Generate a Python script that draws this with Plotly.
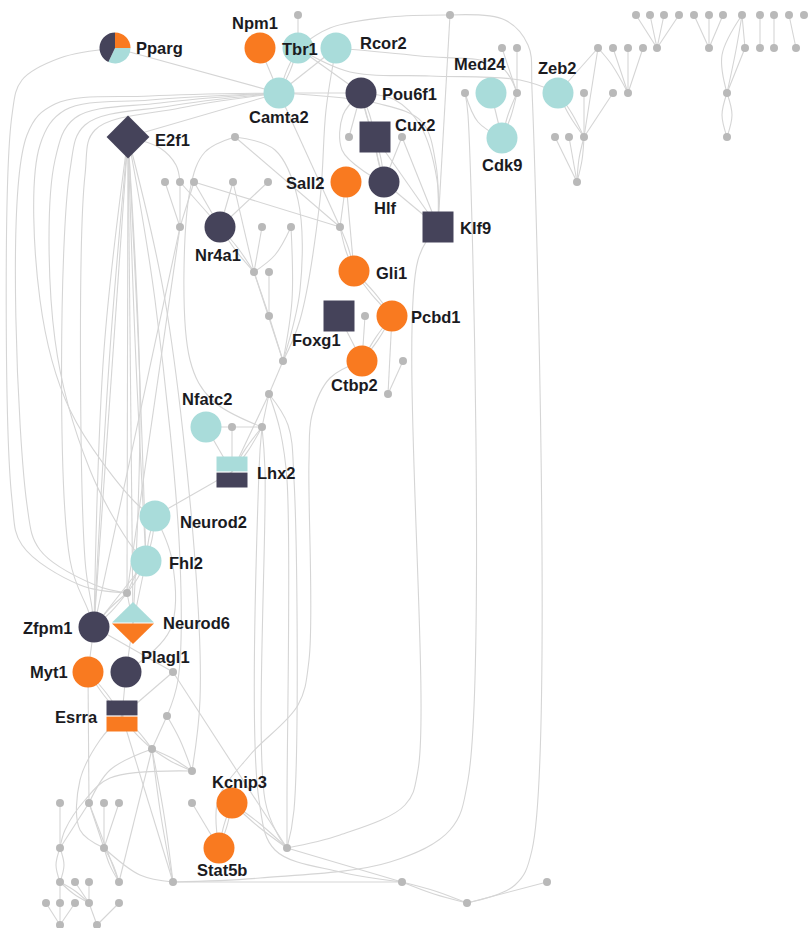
import math
from collections import Counter, defaultdict
import plotly.graph_objects as go

# ---------------- data ----------------
ORANGE = "#F97A20"
CYAN = "#A9DCDA"
DARK = "#45435A"
GRAY = "#B9B9B9"
EDGE = "#D5D5D5"

# named regulators
names = ["Pparg", "Npm1", "Tbr1", "Rcor2", "Camta2", "Pou6f1", "Cux2", "E2f1", "Sall2", "Hlf",
         "Nr4a1", "Klf9", "Med24", "Cdk9", "Zeb2", "Gli1", "Foxg1", "Pcbd1", "Ctbp2", "Nfatc2",
         "Lhx2", "Neurod2", "Fhl2", "Zfpm1", "Neurod6", "Myt1", "Plagl1", "Esrra", "Kcnip3", "Stat5b"]
name_x = [115, 260, 298, 336, 279, 361, 375, 128, 346, 384,
          220, 438, 491, 502, 558, 354, 339, 392, 362, 206,
          232, 155, 146, 94, 133, 88, 126, 122, 232, 219]
name_y = [48, 48, 48, 48, 93, 93, 137, 137, 182, 182,
          227, 227, 93, 138, 93, 271, 316, 316, 361, 427,
          472, 516, 561, 627, 623, 672, 672, 716, 803, 848]
name_shape = ["pie", "circle", "circle", "circle", "circle", "circle", "square", "diamond", "circle", "circle",
              "circle", "square", "circle", "circle", "circle", "circle", "square", "circle", "circle", "circle",
              "split-square", "circle", "circle", "circle", "split-diamond", "circle", "circle", "split-square", "circle", "circle"]
name_color = ["mix", "orange", "cyan", "cyan", "cyan", "dark", "dark", "dark", "orange", "dark",
              "dark", "dark", "cyan", "cyan", "cyan", "orange", "dark", "orange", "orange", "cyan",
              "cyan/dark", "cyan", "cyan", "dark", "cyan/orange", "orange", "dark", "dark/orange", "orange", "orange"]
pparg_shares = [25, 32, 43]          # orange, cyan, dark

# label placement: offset from node and horizontal anchor
label_dx = [19, -5, 2, 22, 0, 19, 18, 25, -19, 1,
            -2, 20, -11, 0, -1, 20, -23, 17, -8, 1,
            23, 23, 21, -19, 28, -18, 39, -22, 7, 3]
label_dy = [0, -25, 1, -5, 24, 1, -12, 3, 1, 26,
            28, 1, -29, 27, -25, 2, 24, 1, 24, -28,
            1, 6, 2, 1, 0, 0, -15, 1, -21, 22]
label_anchor = ["left", "center", "center", "left", "center", "left", "left", "left", "right", "center",
                "center", "left", "center", "center", "center", "left", "center", "left", "center", "center",
                "left", "left", "left", "right", "left", "right", "center", "right", "center", "center"]

# unnamed (grey) genes
gray_ids = ["t1", "t2",
            "r1", "r2", "r3", "r4", "r5", "r6", "r7", "r8", "r9", "r10", "r11", "r12",
            "s1", "s2", "s3", "s4", "s5", "s6", "s7", "s8", "s9", "s10", "s11", "s12",
            "u1", "u2", "u3", "u4", "u5", "u6",
            "v1", "v2", "v3", "v4", "v5", "v6", "v7",
            "w1", "w2", "w3", "w4", "w5", "w6",
            "x1", "x2", "x3", "x4",
            "y1", "y2", "z1", "z2", "m1", "m2", "n1", "n2", "p1", "p2",
            "q1", "q2", "q3", "q4", "q5",
            "b1", "b2", "b3", "b4", "b5",
            "c1", "c2", "c3",
            "d1", "d2", "d3", "d4", "d5", "d6", "d7",
            "e1", "e2", "e3", "e4", "e5", "e6",
            "f1", "f2"]
gray_x = [298, 450,
          636, 650, 664, 679, 694, 709, 723, 742, 760, 774, 789, 804,
          502, 517, 598, 613, 628, 643, 657, 709, 745, 760, 774, 796,
          465, 517, 584, 613, 628, 727,
          235, 349, 402, 555, 569, 584, 727,
          165, 180, 194, 233, 268, 577,
          180, 262, 291, 340,
          254, 269, 269, 365, 283, 403, 269, 388, 232, 262,
          127, 173, 167, 152, 192,
          60, 89, 104, 119, 192,
          60, 104, 287,
          60, 75, 89, 119, 173, 402, 547,
          46, 60, 75, 89, 119, 467,
          60, 97]
gray_y = [15, 15,
          15, 15, 15, 15, 15, 15, 15, 15, 15, 15, 15, 15,
          48, 48, 48, 48, 48, 48, 48, 48, 48, 48, 48, 48,
          93, 93, 93, 93, 93, 93,
          137, 137, 137, 137, 137, 137, 137,
          182, 182, 182, 182, 182, 182,
          227, 227, 227, 227,
          272, 272, 316, 316, 361, 361, 394, 394, 427, 427,
          593, 672, 716, 749, 771,
          803, 803, 803, 803, 803,
          848, 848, 848,
          882, 882, 882, 882, 882, 882, 882,
          903, 903, 903, 903, 903, 903,
          925, 925]

# regulatory links (source, target)
edges = [
    ("s7", "r1"), ("s7", "r2"), ("s7", "r3"), ("s7", "r4"),
    ("s8", "r5"), ("s8", "r6"), ("s8", "r7"),
    ("r8", "s9"), ("s9", "u6"),
    ("r9", "s10"), ("r10", "s11"), ("r11", "s12"),
    ("s3", "Zeb2"), ("s3", "v6"), ("s4", "u5"), ("s5", "u5"), ("s6", "u5"),
    ("u4", "v6"), ("u3", "v6"), ("Zeb2", "v6"), ("Zeb2", "v6"),
    ("v4", "w6"), ("v5", "w6"), ("v6", "w6"), ("v6", "w6"),
    ("s2", "u2"), ("s1", "u2"), ("u2", "Cdk9"), ("u2", "Cdk9"), ("Med24", "Cdk9"),
    ("t1", "Tbr1"), ("Npm1", "Camta2"), ("Tbr1", "Camta2"), ("Tbr1", "Camta2"), ("Rcor2", "Camta2"),
    ("Tbr1", "Pou6f1"), ("Pparg", "Camta2"), ("E2f1", "Camta2"), ("Camta2", "Pou6f1"), ("Camta2", "x4"),
    ("t2", "Klf9"),
    ("Pou6f1", "Cux2"), ("Pou6f1", "Cux2"), ("Pou6f1", "Hlf"), ("Pou6f1", "v2"),
    ("v3", "Hlf"), ("Cux2", "Hlf"), ("Cux2", "Hlf"), ("v3", "Klf9"), ("Cux2", "Klf9"), ("Hlf", "Klf9"),
    ("Sall2", "x4"), ("Sall2", "Gli1"), ("x4", "Gli1"), ("x4", "Gli1"),
    ("Gli1", "Pcbd1"), ("Gli1", "Pcbd1"), ("Pcbd1", "Ctbp2"), ("Pcbd1", "Ctbp2"), ("Foxg1", "Ctbp2"),
    ("z2", "Ctbp2"), ("Pcbd1", "n2"), ("m2", "n2"),
    ("w1", "x1"), ("w2", "x1"), ("w3", "x1"), ("w2", "Nr4a1"), ("w3", "Nr4a1"), ("w4", "Nr4a1"), ("w5", "Nr4a1"),
    ("v1", "x4"), ("w3", "x4"), ("Nr4a1", "y1"), ("Nr4a1", "y1"), ("x2", "y1"), ("w4", "y1"),
    ("y1", "z1"), ("y2", "z1"), ("z1", "m1"), ("y1", "m1"), ("m1", "n1"),
    ("n1", "p2"), ("n1", "Lhx2"), ("p2", "Lhx2"), ("p2", "Lhx2"), ("p1", "Lhx2"), ("Nfatc2", "Lhx2"),
    ("Nfatc2", "p2"), ("Lhx2", "Neurod2"),
    ("x1", "Zfpm1"), ("x1", "q1"),
    ("E2f1", "Zfpm1"), ("E2f1", "Fhl2"), ("E2f1", "Fhl2"), ("E2f1", "q1"), ("E2f1", "Neurod6"),
    ("Neurod2", "Fhl2"), ("Neurod2", "Fhl2"), ("Fhl2", "q1"), ("Fhl2", "q1"), ("Fhl2", "Zfpm1"), ("Fhl2", "Neurod6"),
    ("q1", "Zfpm1"), ("q1", "Zfpm1"), ("q1", "Neurod6"),
    ("Zfpm1", "Myt1"), ("Zfpm1", "q2"), ("Myt1", "Esrra"), ("Myt1", "Esrra"), ("Plagl1", "Esrra"),
    ("q2", "Esrra"), ("Neurod6", "Plagl1"),
    ("Esrra", "q4"), ("Esrra", "q4"), ("q3", "q4"), ("q4", "q5"), ("q4", "q5"), ("q4", "d5"), ("q4", "d5"),
    ("q4", "d4"), ("Esrra", "d5"),
    ("Myt1", "b2"), ("q2", "c3"),
    ("b1", "c1"), ("b2", "c1"), ("b2", "c2"), ("b2", "d4"), ("b3", "c2"), ("b4", "c2"), ("c2", "d4"), ("c2", "d4"),
    ("d1", "e2"), ("d1", "e4"), ("d1", "e4"), ("d2", "e4"), ("d3", "e4"),
    ("e1", "f1"), ("e2", "f1"), ("e3", "f1"), ("e4", "f2"), ("e5", "f2"),
    ("d5", "d6"), ("b5", "Stat5b"), ("Kcnip3", "Stat5b"), ("Kcnip3", "Stat5b"), ("Kcnip3", "c3"), ("Kcnip3", "c3"),
    ("c3", "d6"), ("d6", "e6"), ("d6", "e6"), ("e6", "d7"),
]

# long links drawn along routing channels (source, target, bend points of the layout)
routed = [
    ("r8", "u6", [(736, 50)]), ("r8", "u6", [(722, 55)]),
    ("u6", "v7", [(722, 115)]), ("u6", "v7", [(732, 115)]),
    ("s3", "u5", [(612, 65)]),
    ("u1", "Cdk9", [(478, 122)]),
    ("Rcor2", "u2", [(420, 56), (500, 66)]),
    ("Tbr1", "Zeb2", [(350, 72), (430, 76), (520, 80)]),
    ("Tbr1", "t2", [(330, 28), (390, 17)]),
    ("t2", "e6", [(505, 20), (528, 45), (532, 90), (532, 850), (515, 885)]),
    ("u1", "d5", [(468, 115), (468, 780), (450, 830), (390, 862), (260, 878)]),
    ("Klf9", "c3", [(418, 260), (418, 770), (405, 805), (340, 835)]),
    ("Camta2", "Klf9", [(380, 104), (422, 122), (436, 165)]),
    ("Pou6f1", "Klf9", [(395, 100), (420, 125), (437, 180)]),
    ("Pou6f1", "Hlf", [(343, 115), (342, 150), (365, 172)]),
    ("Rcor2", "m1", [(326, 110), (320, 200), (300, 320)]),
    ("Ctbp2", "Stat5b", [(330, 378), (312, 415), (309, 460), (309, 660), (298, 705), (250, 755), (218, 800)]),
    ("E2f1", "w2", [(160, 148), (176, 165)]),
    ("x3", "y1", [(275, 255)]), ("x3", "m1", [(292, 300)]),
    ("v1", "p2", [(205, 152), (190, 190), (190, 360), (212, 400)]),
    ("v1", "m1", [(275, 150), (298, 200), (300, 290)]),
    ("n1", "c3", [(280, 430), (287, 480), (287, 800)]),
    ("n1", "c3", [(288, 425), (294, 480), (294, 810)]),
    ("p2", "c3", [(265, 470), (265, 800), (278, 835)]),
    ("p2", "d6", [(259, 470), (259, 800), (275, 850), (340, 872)]),
    ("Pparg", "q1", [(60, 58), (22, 80), (12, 115), (12, 500), (22, 545), (80, 585)]),
    ("Camta2", "q1", [(150, 96), (55, 104), (27, 135), (27, 505), (40, 550), (95, 585)]),
    ("Camta2", "Neurod2", [(150, 100), (65, 110), (40, 145), (40, 300), (70, 410), (138, 505)]),
    ("Camta2", "Fhl2", [(160, 103), (75, 118), (55, 160), (55, 340), (90, 470), (133, 548)]),
    ("Camta2", "Zfpm1", [(170, 106), (85, 125), (70, 170), (70, 560), (88, 610)]),
    ("Camta2", "Zfpm1", [(180, 108), (95, 130), (85, 175), (85, 560), (92, 608)]),
    ("E2f1", "Zfpm1", [(110, 350)]), ("E2f1", "Zfpm1", [(104, 350)]),
    ("E2f1", "q5", [(165, 300), (195, 560), (200, 700)]),
    ("E2f1", "q3", [(155, 300), (180, 560), (178, 680)]),
    ("E2f1", "Neurod6", [(140, 400)]),
    ("Neurod2", "Plagl1", [(172, 560), (170, 630)]),
    ("q3", "q5", [(180, 740)]),
    ("q5", "c1", [(110, 778), (85, 800), (65, 830)]),
    ("Esrra", "c2", [(100, 740), (80, 780), (80, 830)]),
    ("c1", "d1", [(56, 865)]), ("c1", "d1", [(64, 865)]),
    ("c2", "d5", [(140, 875)]),
    ("q4", "b2", [(110, 770)]),
]

# ---------------- build ----------------
pos = {n: (x, y) for n, x, y in zip(names, name_x, name_y)}
pos.update({g: (x, y) for g, x, y in zip(gray_ids, gray_x, gray_y)})
COLORS = {"orange": ORANGE, "cyan": CYAN, "dark": DARK}

ex, ey = [], []
total = Counter(tuple(sorted(e)) for e in edges)
seen = defaultdict(int)
for a, b in edges:
    key = tuple(sorted((a, b)))
    k = seen[key]
    seen[key] += 1
    (x0, y0), (x1, y1) = pos[key[0]], pos[key[1]]
    pts = [(x0, y0)]
    if total[key] > 1:
        off = (k - (total[key] - 1) / 2) * 3.2
        L = math.hypot(x1 - x0, y1 - y0) or 1
        nx, ny = -(y1 - y0) / L, (x1 - x0) / L
        pts.append(((x0 + x1) / 2 + nx * off, (y0 + y1) / 2 + ny * off))
    pts.append((x1, y1))
    ex += [p[0] for p in pts] + [None]
    ey += [p[1] for p in pts] + [None]
for a, b, bends in routed:
    pts = [pos[a]] + bends + [pos[b]]
    ex += [p[0] for p in pts] + [None]
    ey += [p[1] for p in pts] + [None]

fig = go.Figure()
fig.add_trace(go.Scatter(x=ex, y=ey, mode="lines", hoverinfo="skip", showlegend=False,
                         line=dict(color=EDGE, width=1.1, shape="spline", smoothing=1.0)))
fig.add_trace(go.Scatter(x=gray_x, y=gray_y, mode="markers", hoverinfo="skip", showlegend=False,
                         marker=dict(size=8, color=GRAY, line=dict(width=0))))

SIZE = {"circle": 31, "square": 31, "diamond": 33}
for shape in ["circle", "square", "diamond"]:
    for cname, col in COLORS.items():
        idx = [i for i in range(len(names)) if name_shape[i] == shape and name_color[i] == cname]
        if not idx:
            continue
        fig.add_trace(go.Scatter(
            x=[name_x[i] for i in idx], y=[name_y[i] for i in idx], mode="markers",
            hoverinfo="skip", showlegend=False,
            marker=dict(symbol=shape, size=SIZE[shape], color=col, line=dict(width=0))))

# two-coloured nodes
H = 15.5
for i in range(len(names)):
    cx, cy = name_x[i], name_y[i]
    if name_shape[i] == "split-square":
        top, bot = name_color[i].split("/")
        halves = [([cx - H, cx + H, cx + H, cx - H], [cy - H, cy - H, cy - 0.6, cy - 0.6], top),
                  ([cx - H, cx + H, cx + H, cx - H], [cy + 0.6, cy + 0.6, cy + H, cy + H], bot)]
    elif name_shape[i] == "split-diamond":
        top, bot = name_color[i].split("/")
        D = 21
        halves = [([cx - D, cx, cx + D], [cy - 0.4, cy - D, cy - 0.4], top),
                  ([cx - D, cx, cx + D], [cy + 0.4, cy + D, cy + 0.4], bot)]
    else:
        continue
    for hx, hy, c in halves:
        fig.add_trace(go.Scatter(x=hx, y=hy, mode="lines", fill="toself", fillcolor=COLORS[c],
                                 line=dict(width=0, color=COLORS[c]), hoverinfo="skip", showlegend=False))

W, HT = 809, 928
for i in range(len(names)):
    if name_shape[i] == "pie":
        cx, cy = name_x[i], name_y[i]
        fig.add_trace(go.Pie(values=pparg_shares, sort=False, direction="clockwise", rotation=0,
                             marker=dict(colors=[ORANGE, CYAN, DARK], line=dict(width=0)),
                             textinfo="none", hoverinfo="skip", showlegend=False,
                             domain=dict(x=[(cx - 15.5) / W, (cx + 15.5) / W],
                                         y=[1 - (cy + 15.5) / HT, 1 - (cy - 15.5) / HT])))

for i in range(len(names)):
    fig.add_annotation(x=name_x[i] + label_dx[i], y=name_y[i] + label_dy[i], text=names[i],
                       showarrow=False, xanchor=label_anchor[i], yanchor="middle",
                       font=dict(family="Liberation Sans, Arial, sans-serif", size=16.5,
                                 color="#1B1B1F", weight="bold"))

fig.update_layout(width=W, height=HT, autosize=False, margin=dict(l=0, r=0, t=0, b=0),
                  paper_bgcolor="white", plot_bgcolor="white", showlegend=False,
                  xaxis=dict(range=[0, W], visible=False, fixedrange=True),
                  yaxis=dict(range=[HT, 0], visible=False, fixedrange=True))
fig.write_html("out.html", config={"displayModeBar": False},
               post_script="document.body.style.margin='0';document.body.style.overflow='hidden';")
